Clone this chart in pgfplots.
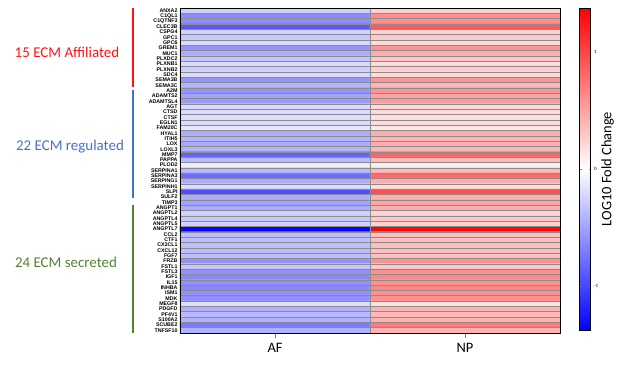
\documentclass[border=0pt]{standalone}
\usepackage{pgfplots}
\pgfplotsset{compat=1.18}
\usepackage{fontspec}
\setmainfont{Carlito}
\newfontfamily\lab{Liberation Sans}
\definecolor{grpred}{RGB}{255,20,20}
\definecolor{grpblue}{RGB}{68,114,196}
\definecolor{grpgreen}{RGB}{84,130,53}
\begin{document}
\begin{tikzpicture}
\begin{axis}[
  name=main,
  scale only axis,
  width=380bp, height=325bp,
  xmin=-0.5, xmax=1.5, ymin=-0.5, ymax=60.5,
  y dir=reverse,
  clip=false,
  axis on top,
  colormap={bwr}{rgb255=(0,0,255) rgb255=(255,255,255) rgb255=(255,0,0)},
  point meta min=-1.38, point meta max=1.38,
  xtick={0,1}, xticklabels={AF,NP},
  xtick pos=bottom, xtick align=outside,
  major tick length=5bp,
  xticklabel style={font=\fontsize{14.5}{14.5}\selectfont, yshift=-2bp},
  ytick={0,...,60},
  yticklabels={ANXA2,C1QL1,C1QTNF3,CLEC3B,CSPG4,GPC1,GPC6,GREM1,MUC1,PLXDC2,PLXNB1,PLXNB2,SDC4,SEMA3B,SEMA3C,
    A2M,ADAMTS2,ADAMTSL4,AGT,CTSD,CTSF,EGLN1,FAM20C,HYAL1,ITIH5,LOX,LOXL3,MMP7,PAPPA,PLOD2,SERPINA1,SERPINA3,SERPING1,SERPINH1,SLPI,SULF2,TIMP3,
    ANGPT1,ANGPTL2,ANGPTL4,ANGPTL5,ANGPTL7,CCL2,CTF1,CX3CL1,CXCL12,FGF7,FRZB,FSTL1,FSTL3,IGF1,IL15,INHBA,ISM1,MDK,MEGF8,PDGFD,PF4V1,S100A2,SCUBE2,TNFSF10},
  yticklabel style={font=\lab\bfseries\fontsize{5.3}{5.3}\selectfont, inner sep=0.8pt, xshift=-1.5bp},
  ytick style={draw=none},
  minor ytick={0.5,1.5,...,59.5},
  minor xtick={0.5},
  yminorgrids, xminorgrids,
  minor tick length=0pt,
  minor grid style={black!45, line width=0.45pt},
  axis line style={black, line width=0.8pt},
  colorbar,
  colorbar style={
    at={(parent axis.north east)}, anchor=north west, xshift=11bp,
    width=11bp, height=322bp,
    ytick={-1,0,1},
    yticklabel style={font=\fontsize{5}{5}\selectfont, /pgf/number format/assume math mode=true},
    major tick length=2bp,
    axis line style={black, line width=0.5pt},
    ylabel={LOG10 Fold Change},
    ylabel style={font=\fontsize{14.5}{14.5}\selectfont, at={(axis description cs:2.55,0.5)}, anchor=center},
  },
]
\addplot[matrix plot*, mesh/cols=2, point meta=explicit] table[meta=c]{
x y c
0 0 -0.27
1 0 0.27
0 1 -0.62
1 1 0.62
0 2 -0.62
1 2 0.62
0 3 -0.90
1 3 0.90
0 4 -0.25
1 4 0.25
0 5 -0.30
1 5 0.30
0 6 -0.20
1 6 0.20
0 7 -0.58
1 7 0.58
0 8 -0.45
1 8 0.45
0 9 -0.32
1 9 0.32
0 10 -0.20
1 10 0.20
0 11 -0.27
1 11 0.27
0 12 -0.20
1 12 0.20
0 13 -0.58
1 13 0.58
0 14 -0.40
1 14 0.40
0 15 -0.58
1 15 0.58
0 16 -0.50
1 16 0.50
0 17 -0.55
1 17 0.55
0 18 -0.20
1 18 0.20
0 19 -0.20
1 19 0.20
0 20 -0.18
1 20 0.18
0 21 -0.20
1 21 0.20
0 22 -0.14
1 22 0.14
0 23 -0.45
1 23 0.45
0 24 -0.40
1 24 0.40
0 25 -0.45
1 25 0.45
0 26 -0.42
1 26 0.42
0 27 -0.85
1 27 0.85
0 28 -0.38
1 28 0.38
0 29 -0.10
1 29 0.10
0 30 -0.38
1 30 0.38
0 31 -0.80
1 31 0.80
0 32 -0.45
1 32 0.45
0 33 -0.18
1 33 0.18
0 34 -0.95
1 34 0.95
0 35 -0.45
1 35 0.45
0 36 -0.50
1 36 0.50
0 37 -0.45
1 37 0.45
0 38 -0.25
1 38 0.25
0 39 -0.30
1 39 0.30
0 40 -0.25
1 40 0.25
0 41 -1.35
1 41 1.35
0 42 -0.35
1 42 0.35
0 43 -0.35
1 43 0.35
0 44 -0.35
1 44 0.35
0 45 -0.35
1 45 0.35
0 46 -0.35
1 46 0.35
0 47 -0.60
1 47 0.60
0 48 -0.30
1 48 0.30
0 49 -0.60
1 49 0.60
0 50 -0.65
1 50 0.65
0 51 -0.60
1 51 0.60
0 52 -0.65
1 52 0.65
0 53 -0.60
1 53 0.60
0 54 -0.60
1 54 0.60
0 55 -0.18
1 55 0.18
0 56 -0.42
1 56 0.42
0 57 -0.38
1 57 0.38
0 58 -0.42
1 58 0.42
0 59 -0.72
1 59 0.72
0 60 -0.42
1 60 0.42
};
\draw[grpred, line width=1.6bp] ([xshift=-47bp]axis cs:-0.5,-0.5) -- ([xshift=-47bp]axis cs:-0.5,14.3);
\draw[grpblue, line width=1.6bp] ([xshift=-47bp]axis cs:-0.5,14.9) -- ([xshift=-47bp]axis cs:-0.5,35.1);
\draw[grpgreen, line width=1.6bp] ([xshift=-47bp]axis cs:-0.5,36.4) -- ([xshift=-47bp]axis cs:-0.5,60.5);
\node[text=grpred, font=\fontsize{15}{15}\selectfont] at ([xshift=-113bp]axis cs:-0.5,7.75) {15 ECM Affiliated};
\node[text=grpblue, font=\fontsize{15}{15}\selectfont] at ([xshift=-110bp]axis cs:-0.5,25.6) {22 ECM regulated};
\node[text=grpgreen, font=\fontsize{15}{15}\selectfont] at ([xshift=-114bp]axis cs:-0.5,47.3) {24 ECM secreted};
\end{axis}
\pgfresetboundingbox
\path ([shift={(-180bp,-32bp)}]main.south west) rectangle ++(627bp,365bp);
\end{tikzpicture}
\end{document}
